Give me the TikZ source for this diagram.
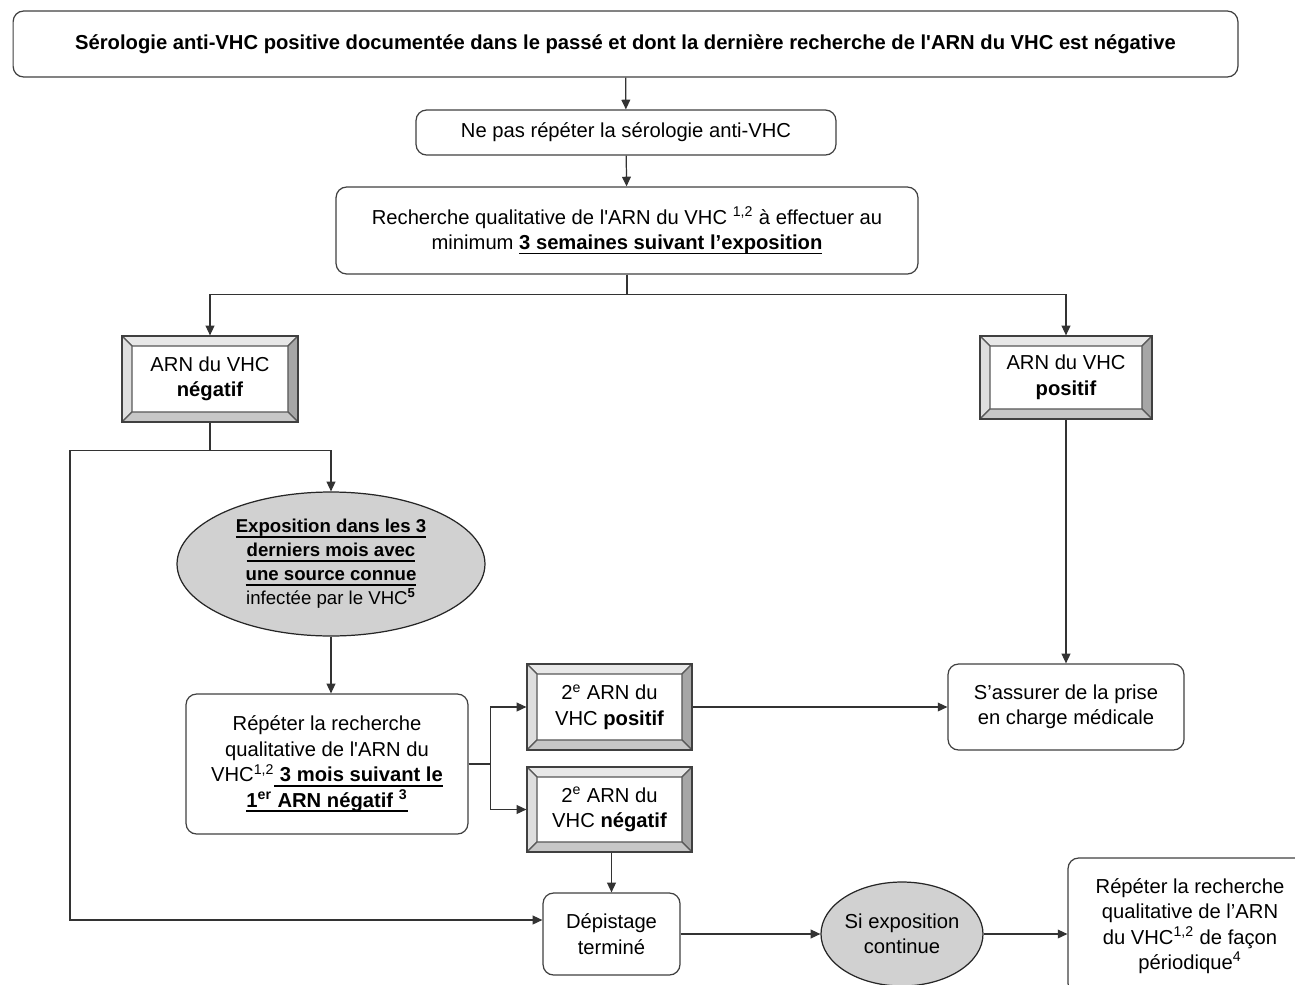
\documentclass[tikz,border=0pt]{standalone}
\usepackage{fontspec}
\setmainfont{Liberation Sans}[Ligatures=TeXOff]
\usetikzlibrary{arrows.meta,shapes.geometric}

\newcommand{\bev}{5.7pt}
\newcommand{\ulbold}[1]{\setbox0=\hbox{\textbf{#1}}\leavevmode\rlap{\rule[-2.8pt]{\wd0}{1.1pt}}\box0}

\begin{document}
\begin{tikzpicture}[x=0.02cm, y=-0.02cm, line width=0.7pt,
  every node/.style={font=\fontsize{11.5}{14.5}\selectfont, align=center, inner sep=0pt},
  box/.style={draw=black!75, rounded corners=6pt, fill=white},
  bevbox/.style={draw=black!75, fill=white, path picture={
    \coordinate (bnw) at (path picture bounding box.north west);
    \coordinate (bne) at (path picture bounding box.north east);
    \coordinate (bsw) at (path picture bounding box.south west);
    \coordinate (bse) at (path picture bounding box.south east);
    \filldraw[draw=black!65, fill=black!9] (bnw) -- (bne) -- ([xshift=-\bev,yshift=-\bev]bne) -- ([xshift=\bev,yshift=-\bev]bnw) -- cycle;
    \filldraw[draw=black!65, fill=black!13] (bnw) -- (bsw) -- ([xshift=\bev,yshift=\bev]bsw) -- ([xshift=\bev,yshift=-\bev]bnw) -- cycle;
    \filldraw[draw=black!65, fill=black!35] (bne) -- (bse) -- ([xshift=-\bev,yshift=\bev]bse) -- ([xshift=-\bev,yshift=-\bev]bne) -- cycle;
    \filldraw[draw=black!65, fill=black!22] (bsw) -- (bse) -- ([xshift=-\bev,yshift=\bev]bse) -- ([xshift=\bev,yshift=\bev]bsw) -- cycle;
  }},
  oval/.style={ellipse, draw=black!85, fill=black!18},
  arr/.style={draw=black!80, -{Triangle[length=5.5pt,width=5pt]}},
  ln/.style={draw=black!80}]

\useasboundingbox (0,0) rectangle (1295,984);
\clip (0,0) rectangle (1295,984);

\node[box, minimum width=24.5cm, minimum height=1.32cm] (serol) at (625.5,44) {\textbf{Sérologie anti-VHC positive documentée dans le passé et dont la dernière recherche de l'ARN du VHC est négative}};
\node[box, minimum width=8.4cm, minimum height=0.9cm] (nepas) at (626,132.5) {Ne pas répéter la sérologie anti-VHC};
\node[box, minimum width=11.64cm, minimum height=1.74cm] (rech) at (627,230.5) {Recherche qualitative de l'ARN du VHC \textsuperscript{1,2} à effectuer au\\ minimum \ulbold{3 semaines suivant l’exposition}};

\node[bevbox, minimum width=3.52cm, minimum height=1.72cm] (neg) at (210,379) {ARN du VHC\\ \textbf{négatif}};
\node[bevbox, minimum width=3.44cm, minimum height=1.66cm] (pos) at (1066,377.5) {ARN du VHC\\ \textbf{positif}};

\node[oval, minimum width=6.16cm, minimum height=2.88cm, font=\fontsize{10.6}{13.6}\selectfont] (expo) at (331,564) {\ulbold{Exposition dans les 3}\\ \ulbold{derniers mois avec}\\ \ulbold{une source connue}\\ infectée par le VHC\textsuperscript{\textbf{5}}};
\node[box, minimum width=5.64cm, minimum height=2.8cm] (rep) at (327,764) {Répéter la recherche\\ qualitative de l'ARN du\\ VHC\textsuperscript{1,2}\ulbold{ 3 mois suivant le}\\ \ulbold{1\textsuperscript{er} ARN négatif \textsuperscript{3}}};

\node[bevbox, minimum width=3.3cm, minimum height=1.72cm] (pos2) at (609.5,707) {2\textsuperscript{e} ARN du\\ VHC \textbf{positif}};
\node[bevbox, minimum width=3.3cm, minimum height=1.7cm] (neg2) at (609.5,809.5) {2\textsuperscript{e} ARN du\\ VHC \textbf{négatif}};
\node[box, minimum width=4.72cm, minimum height=1.72cm] (prise) at (1066,707) {S’assurer de la prise\\ en charge médicale};

\node[box, minimum width=2.74cm, minimum height=1.64cm] (depist) at (611.5,934) {Dépistage\\ terminé};
\node[oval, minimum width=3.08cm, minimum height=2.08cm] (sicont) at (902,934) {Si exposition\\ continue};
\node[box, minimum width=4.88cm, minimum height=2.72cm] (period) at (1190,926) {Répéter la recherche\\ qualitative de l’ARN\\ du VHC\textsuperscript{1,2} de façon\\ périodique\textsuperscript{4}};

\coordinate (lft) at (70,920);

\draw[arr] (serol) -- (nepas);
\draw[arr] (nepas) -- (rech);
\draw[arr] (rech.south) -- ++(0,20) -| (neg.north);
\draw[arr] (rech.south) -- ++(0,20) -| (pos.north);
\draw[arr] (neg.south) -- ++(0,28) -| (expo.north);
\draw[arr] (neg.south) -- ++(0,28) -| (lft) -- (lft -| depist.west);
\draw[arr] (expo.south) -- (expo.south |- rep.north);
\draw[arr] (rep.east) -- ++(22,0) |- (pos2.west);
\draw[arr] (rep.east) -- ++(22,0) |- (neg2.west);
\draw[arr] (pos2) -- (prise);
\draw[arr] (pos) -- (prise);
\draw[arr] (neg2.south -| depist.north) -- (depist.north);
\draw[arr] (depist) -- (sicont);
\draw[arr] (sicont.east) -- (sicont.east -| period.west);

\end{tikzpicture}
\end{document}
